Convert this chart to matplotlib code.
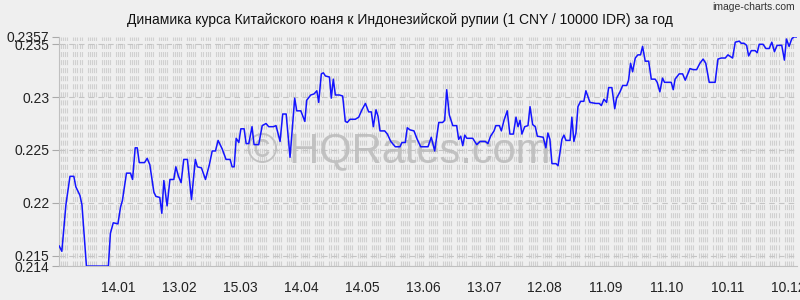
import numpy as np
import matplotlib
matplotlib.use("Agg")
import matplotlib.pyplot as plt

# день от начала периода (16.12.2013) и курс CNY / 10000 IDR
days = [0.0, 1.3, 3.3, 5.3, 7.2, 8.2, 10.2, 11.2, 13.4, 24.2, 25.2, 26.6, 28.9, 30.2, 31.1,
        33.1, 35.1, 36.1, 37.4, 38.4, 39.4, 42.0, 43.3, 44.6, 46.6, 47.6, 49.5, 50.5, 51.5,
        53.1, 54.5, 56.4, 57.4, 58.7, 60.0, 61.3, 63.1, 65.1, 67.0, 68.0, 70.0, 72.0, 73.9,
        75.3, 76.9, 78.2, 80.2, 82.1, 84.1, 85.1, 86.1, 87.1, 88.4, 89.4, 91.0, 92.0, 93.3,
        94.9, 95.9, 98.2, 99.9, 101.8, 103.1, 105.4, 106.7, 108.7, 110.0, 111.7, 113.6,
        115.9, 116.9, 118.9, 120.9, 121.8, 123.8, 125.4, 126.8, 127.7, 129.0, 130.0, 131.0,
        133.0, 133.9, 134.9, 135.9, 137.9, 139.5, 140.8, 141.8, 143.1, 145.7, 147.4, 149.0,
        150.7, 152.3, 153.6, 154.6, 155.9, 156.9, 157.9, 160.2, 161.5, 163.2, 165.4, 167.7,
        168.7, 170.3, 171.3, 172.6, 174.6, 176.2, 177.9, 181.5, 183.1, 184.8, 186.8, 188.7,
        189.7, 190.7, 192.0, 193.7, 195.6, 196.6, 197.6, 198.6, 199.6, 200.6, 203.5, 205.5,
        207.1, 209.7, 211.0, 212.3, 214.0, 214.9, 216.6, 217.6, 218.9, 220.5, 221.8, 223.5,
        224.8, 225.8, 226.8, 227.7, 229.1, 230.7, 231.7, 233.0, 234.3, 235.3, 238.2, 239.5,
        240.5, 241.5, 242.5, 244.5, 245.5, 247.4, 248.4, 249.4, 251.4, 252.3, 253.3, 254.3,
        255.3, 256.6, 258.2, 259.2, 261.2, 264.1, 265.8, 266.8, 268.1, 269.4, 270.4, 272.0,
        273.4, 274.3, 276.0, 277.3, 279.3, 280.2, 281.2, 282.2, 283.5, 284.8, 286.1, 287.1,
        288.4, 290.1, 291.4, 293.3, 294.3, 295.6, 296.9, 297.9, 301.2, 302.2, 303.1, 305.1,
        306.8, 308.1, 310.4, 312.0, 313.7, 315.3, 316.9, 318.2, 319.9, 322.8, 324.2, 325.8,
        327.8, 329.1, 331.4, 332.7, 334.7, 335.6, 337.0, 338.3, 339.3, 340.6, 342.5, 343.5,
        344.5, 346.4, 347.8, 349.4, 350.7, 352.0, 353.3, 355.6, 356.9, 357.9, 359.2, 360.5,
        361.5, 362.8]
rates = [0.2159, 0.2154, 0.2198, 0.2225, 0.2225, 0.2215, 0.2207, 0.2198, 0.2140, 0.2140, 0.2171,
         0.2181, 0.2180, 0.2196, 0.2202, 0.2228, 0.2228, 0.2222, 0.2252, 0.2252, 0.2238,
         0.2238, 0.2242, 0.2236, 0.2210, 0.2206, 0.2205, 0.2190, 0.2221, 0.2197, 0.2222,
         0.2222, 0.2234, 0.2225, 0.2219, 0.2241, 0.2241, 0.2203, 0.2241, 0.2234, 0.2233,
         0.2222, 0.2236, 0.2249, 0.2249, 0.2259, 0.2251, 0.2241, 0.2241, 0.2234, 0.2234,
         0.2261, 0.2257, 0.2270, 0.2270, 0.2256, 0.2256, 0.2272, 0.2255, 0.2255, 0.2273,
         0.2275, 0.2272, 0.2272, 0.2273, 0.2258, 0.2284, 0.2284, 0.2243, 0.2299, 0.2287,
         0.2287, 0.2277, 0.2297, 0.2302, 0.2303, 0.2306, 0.2295, 0.2322, 0.2323, 0.2320,
         0.2319, 0.2299, 0.2317, 0.2302, 0.2302, 0.2301, 0.2277, 0.2276, 0.2279, 0.2279,
         0.2281, 0.2288, 0.2294, 0.2286, 0.2286, 0.2272, 0.2288, 0.2282, 0.2268, 0.2268,
         0.2265, 0.2258, 0.2253, 0.2253, 0.2257, 0.2257, 0.2271, 0.2269, 0.2268, 0.2260,
         0.2253, 0.2253, 0.2262, 0.2249, 0.2276, 0.2276, 0.2278, 0.2307, 0.2283, 0.2273,
         0.2273, 0.2260, 0.2263, 0.2254, 0.2264, 0.2261, 0.2261, 0.2255, 0.2258, 0.2258,
         0.2256, 0.2263, 0.2268, 0.2273, 0.2273, 0.2268, 0.2278, 0.2287, 0.2265, 0.2265,
         0.2281, 0.2272, 0.2278, 0.2265, 0.2272, 0.2273, 0.2291, 0.2274, 0.2272, 0.2263,
         0.2262, 0.2252, 0.2266, 0.2260, 0.2237, 0.2237, 0.2235, 0.2260, 0.2264, 0.2259,
         0.2259, 0.2281, 0.2258, 0.2266, 0.2291, 0.2296, 0.2296, 0.2306, 0.2295, 0.2294,
         0.2294, 0.2292, 0.2298, 0.2295, 0.2309, 0.2309, 0.2289, 0.2299, 0.2305, 0.2311,
         0.2311, 0.2316, 0.2332, 0.2324, 0.2337, 0.2340, 0.2340, 0.2348, 0.2334, 0.2334,
         0.2317, 0.2317, 0.2314, 0.2305, 0.2318, 0.2314, 0.2314, 0.2307, 0.2317, 0.2322,
         0.2322, 0.2316, 0.2327, 0.2326, 0.2326, 0.2332, 0.2336, 0.2332, 0.2314, 0.2314,
         0.2336, 0.2337, 0.2337, 0.2340, 0.2337, 0.2352, 0.2353, 0.2351, 0.2351, 0.2349,
         0.2339, 0.2344, 0.2344, 0.2342, 0.2350, 0.2350, 0.2346, 0.2346, 0.2352, 0.2343,
         0.2349, 0.2349, 0.2335, 0.2355, 0.2348, 0.2355, 0.2357, 0.2357]

xtick_pos = [29, 59, 89, 119, 149, 179, 209, 239, 269, 299, 329, 359]
xtick_labels = ["14.01", "13.02", "15.03", "14.04", "14.05", "13.06", "13.07",
                "12.08", "11.09", "11.10", "10.11", "10.12"]
ytick_pos = [0.214, 0.215, 0.22, 0.225, 0.23, 0.235, 0.2357]
ytick_labels = ["0.214", "0.215", "0.22", "0.225", "0.23", "0.235", "0.2357"]

plt.rcParams['font.family'] = ['Liberation Sans', 'DejaVu Sans']
plt.rcParams['lines.scale_dashes'] = False

bg = "#efefef"
fig = plt.figure(figsize=(8, 3), dpi=100, facecolor=bg)
ax = fig.add_axes([0.074, 0.113, 0.922, 0.764], facecolor=bg)

# фон из пунктирных вертикальных линий по рабочим дням
for d in range(0, 364):
    if d % 7 < 5:
        ax.axvline(d, color="#d0d0d0", lw=0.8, ls=(0, (3.6, 2.2)), zorder=0)
for yv in ytick_pos[:-1]:
    ax.axhline(yv, color="#c4c4c4", lw=0.8, ls=(0, (4, 3)), zorder=1)

ax.text(0.46, 0.5, "© HQRates.com", transform=ax.transAxes, ha="center", va="center",
        fontsize=30, color="#bbbbbb", alpha=0.85, zorder=2)

ax.plot(days, rates, color="#1414ff", lw=1.1, zorder=3)

ax.set_xlim(0, 363)
ax.set_ylim(0.214, 0.2357)
ax.set_xticks(xtick_pos)
ax.set_xticklabels(xtick_labels, fontsize=10)
ax.set_yticks(ytick_pos)
ax.set_yticklabels(ytick_labels, fontsize=10)
ax.tick_params(axis="x", length=0, pad=11, colors="#222222")
ax.tick_params(axis="y", length=5, color="#aaaaaa", colors="#222222", pad=2)
for s in ["top", "right"]:
    ax.spines[s].set_visible(False)
ax.spines["left"].set_color("#c0c0c0")
ax.spines["bottom"].set_color("#c0c0c0")

fig.text(0.5, 0.932, "Динамика курса Китайского юаня к Индонезийской рупии (1 CNY / 10000 IDR) за год",
         ha="center", va="center", fontsize=10, color="#111111")
fig.text(0.994, 0.978, "image-charts.com", ha="right", va="center", fontsize=7.5, color="#333333")

fig.savefig("out.png", dpi=100, facecolor=bg)
